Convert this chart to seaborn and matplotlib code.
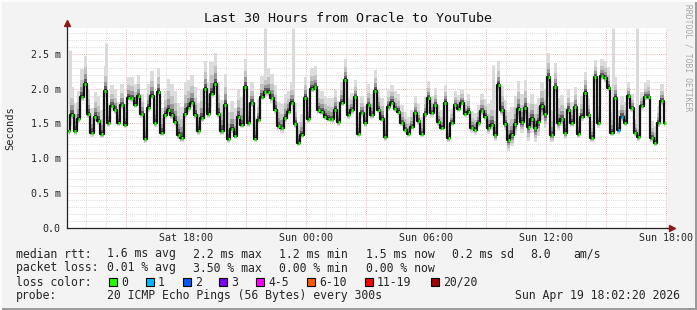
import numpy as np
import pandas as pd
import matplotlib
matplotlib.use("Agg")
import matplotlib.pyplot as plt
from matplotlib.patches import Rectangle
import seaborn as sns

# ---------------- data ----------------
title = "Last 30 Hours from Oracle to YouTube"
start_hour = 12.039          # Sat 12:02:20, hours from Sat 00:00
span_hours = 30
step_minutes = 10

median_ms = [
    1.39, 1.62, 1.39, 1.57, 1.88, 2.07, 1.64, 1.37, 1.60, 1.54, 1.35, 1.97, 1.50, 1.75, 1.69,
    1.51, 1.76, 1.48, 1.87, 1.86, 1.77, 1.89, 1.63, 1.27, 1.72, 1.90, 1.50, 1.95, 1.37, 1.62,
    1.69, 1.62, 1.52, 1.34, 1.29, 1.64, 1.72, 1.80, 1.62, 1.39, 1.58, 2.00, 1.64, 1.93, 2.06,
    1.64, 1.39, 1.76, 1.27, 1.42, 1.32, 1.60, 1.48, 2.02, 1.50, 1.79, 1.28, 1.55, 1.88, 1.95,
    1.95, 1.86, 1.70, 1.46, 1.43, 1.58, 1.67, 1.80, 1.49, 1.22, 1.34, 1.87, 1.56, 2.00, 2.02,
    1.69, 1.67, 1.60, 1.57, 1.56, 1.70, 1.52, 1.80, 2.13, 1.62, 1.69, 1.88, 1.35, 1.65, 1.50,
    1.76, 1.62, 1.97, 1.70, 1.57, 1.30, 1.73, 1.80, 1.71, 1.67, 1.51, 1.41, 1.35, 1.45, 1.65,
    1.53, 1.35, 1.63, 1.86, 1.65, 1.76, 1.52, 1.44, 1.80, 1.29, 1.51, 1.76, 1.71, 1.80, 1.64,
    1.67, 1.43, 1.40, 1.51, 1.68, 1.60, 1.43, 1.48, 1.33, 2.05, 1.69, 1.49, 1.26, 1.33, 1.49,
    1.71, 1.52, 1.72, 1.45, 1.57, 1.43, 1.52, 1.75, 1.63, 2.16, 1.33, 2.02, 1.51, 1.56, 1.37,
    1.69, 1.51, 1.73, 1.35, 1.60, 1.94, 1.62, 1.29, 2.16, 1.50, 2.18, 2.15, 2.01, 1.37, 1.87,
    1.40, 1.59, 1.51, 1.89, 1.72, 1.37, 1.30, 1.75, 1.88, 1.88, 1.29, 1.22, 1.50, 1.82, 1.50,
]

# smoke extent above / below the median, per hour (ms)
smoke_up_hourly = [0.40, 0.35, 0.30, 0.30, 0.35, 0.45, 0.40, 0.45, 0.40, 0.30,
                   0.35, 0.30, 0.30, 0.30, 0.25, 0.30, 0.25, 0.25, 0.25, 0.20,
                   0.25, 0.35, 0.40, 0.35, 0.35, 0.30, 0.25, 0.30, 0.20, 0.25]
smoke_down_hourly = [0.06, 0.06, 0.05, 0.05, 0.05, 0.06, 0.06, 0.06, 0.05, 0.05,
                     0.06, 0.05, 0.05, 0.05, 0.05, 0.05, 0.05, 0.05, 0.05, 0.05,
                     0.06, 0.08, 0.15, 0.20, 0.10, 0.06, 0.06, 0.05, 0.05, 0.05]

# isolated tall smoke spikes
spike_hours = [12.19, 13.99, 19.19, 21.94, 23.34, 33.34, 36.04, 38.44, 39.34, 40.54]
spike_tops = [2.56, 2.66, 2.39, 2.87, 2.87, 2.34, 2.44, 2.39, 2.87, 2.87]

# samples with packet loss (index, lost pings)
loss_index = [165, 166]
loss_count = [1, 1]

ytick_values = [0.0, 0.5, 1.0, 1.5, 2.0, 2.5]
ytick_labels = ["0.0", "0.5 m", "1.0 m", "1.5 m", "2.0 m", "2.5 m"]
xtick_hours = [18, 24, 30, 36, 42]
xtick_labels = ["Sat 18:00", "Sun 00:00", "Sun 06:00", "Sun 12:00", "Sun 18:00"]

loss_legend_labels = ["0", "1", "2", "3", "4-5", "6-10", "11-19", "20/20"]
loss_legend_colors = ["#20ff00", "#00b8ff", "#0059ff", "#7e00ff", "#ff00ff", "#ff5a00", "#ff0000", "#a00000"]

rtt_stats = ["1.6 ms avg", "2.2 ms max", "1.2 ms min", "1.5 ms now", "0.2 ms sd", "8.0", "am/s"]
loss_stats = ["0.01 % avg", "3.50 % max", "0.00 % min", "0.00 % now"]
probe_text = "20 ICMP Echo Pings (56 Bytes) every 300s"
stamp_text = "Sun Apr 19 18:02:20 2026"

# ---------------- figure ----------------
W, H = 697, 310
sns.set_style("white")
plt.rcParams["font.family"] = ["DejaVu Sans Mono", "DejaVu Sans"]
fig = plt.figure(figsize=(W / 100, H / 100), dpi=100)
fig.patch.set_facecolor("#f3f3f3")

px = lambda x: x / W
py = lambda y: 1 - y / H

ax = fig.add_axes([px(67), py(228), 600 / W, 200 / H])
ax.set_facecolor("white")

n = len(median_ms)
step_h = step_minutes / 60
times = start_hour + (np.arange(n) + 0.5) * step_h
med = np.array(median_ms)
per_hour = n // span_hours
up = np.repeat(smoke_up_hourly, per_hour)
down = np.repeat(smoke_down_hourly, per_hour)

df = pd.DataFrame({"time": times, "median": med})

# grid
for h in np.arange(13, 43):
    major = (h % 3 == 0)
    ax.axvline(h, color="#f2a0a0" if major else "#d0d0d0", lw=0.6,
               ls=(0, (1, 1.5)), zorder=0)
for v in np.round(np.arange(0.1, 2.85, 0.1), 2):
    major = abs(v * 2 - round(v * 2)) < 1e-6
    ax.axhline(v, color="#f2a0a0" if major else "#d0d0d0", lw=0.6,
               ls=(0, (1, 1.5)), zorder=0)

# tall spikes
spike_base = np.interp(spike_hours, times, med)
ax.vlines(spike_hours, spike_base, spike_tops, color="#dadada", lw=2.2, zorder=1)

# smoke bands
bands = [(1.0, 1.0, "#dcdcdc"), (0.6, 0.7, "#c2c2c2"), (0.35, 0.45, "#999999"),
         (0.18, 0.25, "#5e5e5e"), (0.07, 0.1, "#2a2a2a")]
for fu, fd, c in bands:
    ax.fill_between(times, med - down * fd, med + up * fu, step="mid",
                    color=c, lw=0, zorder=2)

# median line
sns.lineplot(data=df, x="time", y="median", ax=ax, color="#111111", lw=1.6,
             drawstyle="steps-mid", estimator=None, sort=False, zorder=3)

# loss colour marks on the median
colors = np.array([loss_legend_colors[0]] * n, dtype=object)
for i, c in zip(loss_index, loss_count):
    colors[i] = loss_legend_colors[min(c, 7)]
ax.hlines(med, times - step_h * 0.3, times + step_h * 0.3, colors=list(colors),
          lw=2.2, zorder=4)

ax.set_xlim(start_hour, start_hour + span_hours)
ax.set_ylim(0, 2.87)
ax.set_xlabel("")
ax.set_ylabel("")
ax.set_xticks(xtick_hours)
ax.set_xticklabels(xtick_labels, fontsize=7.2)
ax.set_yticks(ytick_values)
ax.set_yticklabels(ytick_labels, fontsize=7.2)
ax.tick_params(axis="both", length=2, width=0.6, color="#8b0000", pad=2.5)
ax.tick_params(axis="x", pad=1.5)
for s in ["top", "right"]:
    ax.spines[s].set_visible(False)
for s in ["left", "bottom"]:
    ax.spines[s].set_color("#222222")
    ax.spines[s].set_linewidth(0.9)

# axis arrows
ax.plot([1.0, 1.006], [0, 0], transform=ax.transAxes, color="#222222", lw=0.9, clip_on=False)
ax.plot([1.008], [0], transform=ax.transAxes, marker=">", color="#8b1a1a", ms=4, clip_on=False)
ax.plot([0, 0], [1.0, 1.02], transform=ax.transAxes, color="#222222", lw=0.9, clip_on=False)
ax.plot([0], [1.025], transform=ax.transAxes, marker="^", color="#8b1a1a", ms=4, clip_on=False)

# texts
fig.text(px(348), py(19), title, ha="center", va="center", fontsize=9.6, color="#111111")
fig.text(px(10), py(128), "Seconds", rotation=90, ha="center", va="center", fontsize=7.5)
fig.text(px(688), py(4), "RRDTOOL / TOBI OETIKER", rotation=270, ha="center", va="top",
         fontsize=5.8, color="#a8a8a8")

fs = 8.3
rows_y = [254, 268, 282, 296]
fig.text(px(16), py(rows_y[0]), "median rtt:", va="center", fontsize=fs)
for x, t in zip([107, 193, 279, 366, 452, 530, 573], rtt_stats):
    fig.text(px(x), py(rows_y[0]), t, va="center", fontsize=fs)
fig.text(px(16), py(rows_y[1]), "packet loss:", va="center", fontsize=fs)
for x, t in zip([107, 193, 279, 366], loss_stats):
    fig.text(px(x), py(rows_y[1]), t, va="center", fontsize=fs)
fig.text(px(16), py(rows_y[2]), "loss color:", va="center", fontsize=fs)
box_x = [109, 146, 183, 219, 256, 307, 365, 431]
for x, lab, c in zip(box_x, loss_legend_labels, loss_legend_colors):
    fig.patches.append(Rectangle((px(x), py(rows_y[2] + 4)), 8 / W, 8 / H,
                                 transform=fig.transFigure, facecolor=c,
                                 edgecolor="black", lw=0.8, figure=fig))
    fig.text(px(x + 12), py(rows_y[2]), lab, va="center", fontsize=fs)
fig.text(px(16), py(rows_y[3]), "probe:", va="center", fontsize=fs)
fig.text(px(107), py(rows_y[3]), probe_text, va="center", fontsize=fs)
fig.text(px(680), py(rows_y[3]), stamp_text, va="center", ha="right", fontsize=fs)

# frame
fig.patches.append(Rectangle((px(W - 2), 0), 2 / W, 1, transform=fig.transFigure,
                             facecolor="#9a9a9a", lw=0, figure=fig))
fig.patches.append(Rectangle((0, 0), 1, 2 / H, transform=fig.transFigure,
                             facecolor="#9a9a9a", lw=0, figure=fig))
fig.patches.append(Rectangle((0, py(2)), 1, 2 / H, transform=fig.transFigure,
                             facecolor="#fcfcfc", lw=0, figure=fig))
fig.patches.append(Rectangle((0, 0), 2 / W, 1, transform=fig.transFigure,
                             facecolor="#fcfcfc", lw=0, figure=fig))

fig.savefig("out.png", dpi=100, facecolor=fig.get_facecolor())
